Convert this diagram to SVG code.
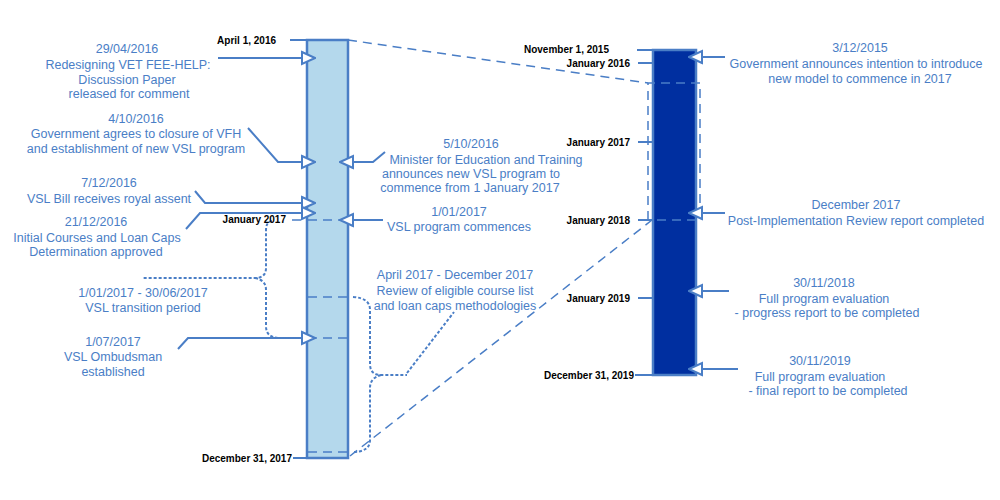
<svg xmlns="http://www.w3.org/2000/svg" width="1000" height="500" viewBox="0 0 1000 500">
<defs>
<marker id="ah" viewBox="0 0 16 16" refX="15" refY="8" markerWidth="16" markerHeight="16" markerUnits="userSpaceOnUse" orient="auto">
<path d="M2,2 L15,8 L2,14 Z" fill="#fff" stroke="#4a7ec6" stroke-width="2"/>
</marker>
<style>
.t{font-family:"Liberation Sans",Arial,sans-serif;font-size:12.5px;fill:#4a7ec6;text-anchor:middle}
.k{font-family:"Liberation Sans",Arial,sans-serif;font-size:10px;font-weight:bold;fill:#000;text-anchor:end}
.ln{fill:none;stroke:#4a7ec6;stroke-width:2}
.ar{fill:none;stroke:#4a7ec6;stroke-width:2;marker-end:url(#ah)}
.ds{fill:none;stroke:#4a7ec6;stroke-width:1.5;stroke-dasharray:9,6}
.dt{fill:none;stroke:#4a7ec6;stroke-width:2;stroke-dasharray:3,2}
</style>
</defs>
<g id="bars">
<rect x="307" y="40" width="41" height="418" fill="#b4d8ec" stroke="#4a7ec6" stroke-width="2.5"/>
<rect x="653" y="50" width="43" height="325" fill="#002fa0" stroke="#4a7ec6" stroke-width="2.5"/>
</g>
<g id="connectors">
<line class="ds" x1="308" y1="220" x2="347" y2="220"/>
<line class="ds" x1="308" y1="297" x2="347" y2="297"/>
<line class="ds" x1="308" y1="338" x2="347" y2="338"/>
<line class="ds" x1="308" y1="452" x2="347" y2="452"/>
<path class="ds" d="M648,220 V83 H700 V220 H648"/>
<line class="ds" x1="348" y1="40" x2="648" y2="83"/>
<line class="ds" x1="350" y1="456" x2="652" y2="220"/>
<line class="ln" x1="290" y1="40" x2="307" y2="40"/>
<line class="ds" x1="292" y1="220" x2="307" y2="220"/>
<line class="ln" x1="293" y1="458" x2="307" y2="458"/>
<line class="ln" x1="637" y1="50" x2="653" y2="50"/>
<line class="ln" x1="638" y1="63" x2="653" y2="63"/>
<line class="ln" x1="638" y1="142" x2="653" y2="142"/>
<line class="ln" x1="638" y1="220" x2="653" y2="220"/>
<line class="ln" x1="638" y1="298" x2="653" y2="298"/>
<line class="ln" x1="635" y1="375" x2="653" y2="375"/>
<path class="ar" d="M218,58 H315"/>
<path class="ar" d="M248,128 L278,162 H315"/>
<path class="ar" d="M195,191 L205,203 H315"/>
<path class="ar" d="M186,229 L200,213 H315"/>
<path class="ar" d="M178,349 L188,338 H315"/>
<path class="ar" d="M385,152 L373,162 H340"/>
<path class="ar" d="M383,220 H340"/>
<path class="ar" d="M725,57 H689"/>
<path class="ar" d="M725,213 H689"/>
<path class="ar" d="M729,291 H689"/>
<path class="ar" d="M738,369 H689"/>
<path class="dt" d="M272,221 Q266,222 266,230 V268 Q266,278 255,278 H143 M255,278 Q266,280 266,290 V326 Q266,338 280,338 H300"/>
<path class="dt" d="M353,297 Q370,298 370,310 V364 Q370,375 381,375 H407 M381,375 Q370,378 370,388 V440 Q370,452 352,452 M407,373 L454,312"/>
</g>
<g id="labels">
<text class="k" x="276" y="44">April 1, 2016</text>
<text class="k" x="286" y="223">January 2017</text>
<text class="k" x="292" y="462">December 31, 2017</text>
<text class="k" x="609" y="53">November 1, 2015</text>
<text class="k" x="630" y="67">January 2016</text>
<text class="k" x="630" y="146">January 2017</text>
<text class="k" x="630" y="224">January 2018</text>
<text class="k" x="630" y="302">January 2019</text>
<text class="k" x="634" y="379">December 31, 2019</text>
</g>
<g id="e1"><text class="t" x="127" y="53">29/04/2016</text><text class="t" x="128" y="69">Redesigning VET FEE-HELP:</text><text class="t" x="127" y="84">Discussion Paper</text><text class="t" x="129" y="98">released for comment</text></g>
<g id="e2"><text class="t" x="136" y="123">4/10/2016</text><text class="t" x="136" y="138">Government agrees to closure of VFH</text><text class="t" x="136" y="153">and establishment of new VSL program</text></g>
<g id="e3"><text class="t" x="109" y="187">7/12/2016</text><text class="t" x="109" y="203">VSL Bill receives royal assent</text></g>
<g id="e4"><text class="t" x="96" y="226">21/12/2016</text><text class="t" x="97" y="242">Initial Courses and Loan Caps</text><text class="t" x="96" y="256">Determination approved</text></g>
<g id="e5"><text class="t" x="143" y="297">1/01/2017 - 30/06/2017</text><text class="t" x="143" y="312">VSL transition period</text></g>
<g id="e6"><text class="t" x="113" y="346">1/07/2017</text><text class="t" x="113" y="361">VSL Ombudsman</text><text class="t" x="113" y="376">established</text></g>
<g id="e7"><text class="t" x="471" y="148">5/10/2016</text><text class="t" x="486" y="164">Minister for Education and Training</text><text class="t" x="471" y="178">announces new VSL program to</text><text class="t" x="470" y="192">commence from 1 January 2017</text></g>
<g id="e8"><text class="t" x="459" y="216">1/01/2017</text><text class="t" x="459" y="231">VSL program commences</text></g>
<g id="e9"><text class="t" x="455" y="279">April 2017 - December 2017</text><text class="t" x="455" y="295">Review of eligible course list</text><text class="t" x="455" y="310">and loan caps methodologies</text></g>
<g id="e10"><text class="t" x="860" y="52">3/12/2015</text><text class="t" x="856" y="68">Government announces intention to introduce</text><text class="t" x="860" y="83">new model to commence in 2017</text></g>
<g id="e11"><text class="t" x="856" y="209">December 2017</text><text class="t" x="856" y="225">Post-Implementation Review report completed</text></g>
<g id="e12"><text class="t" x="824" y="287">30/11/2018</text><text class="t" x="824" y="303">Full program evaluation</text><text class="t" x="827" y="317">- progress report to be completed</text></g>
<g id="e13"><text class="t" x="820" y="365">30/11/2019</text><text class="t" x="820" y="381">Full program evaluation</text><text class="t" x="828" y="395">- final report to be completed</text></g>
</svg>
